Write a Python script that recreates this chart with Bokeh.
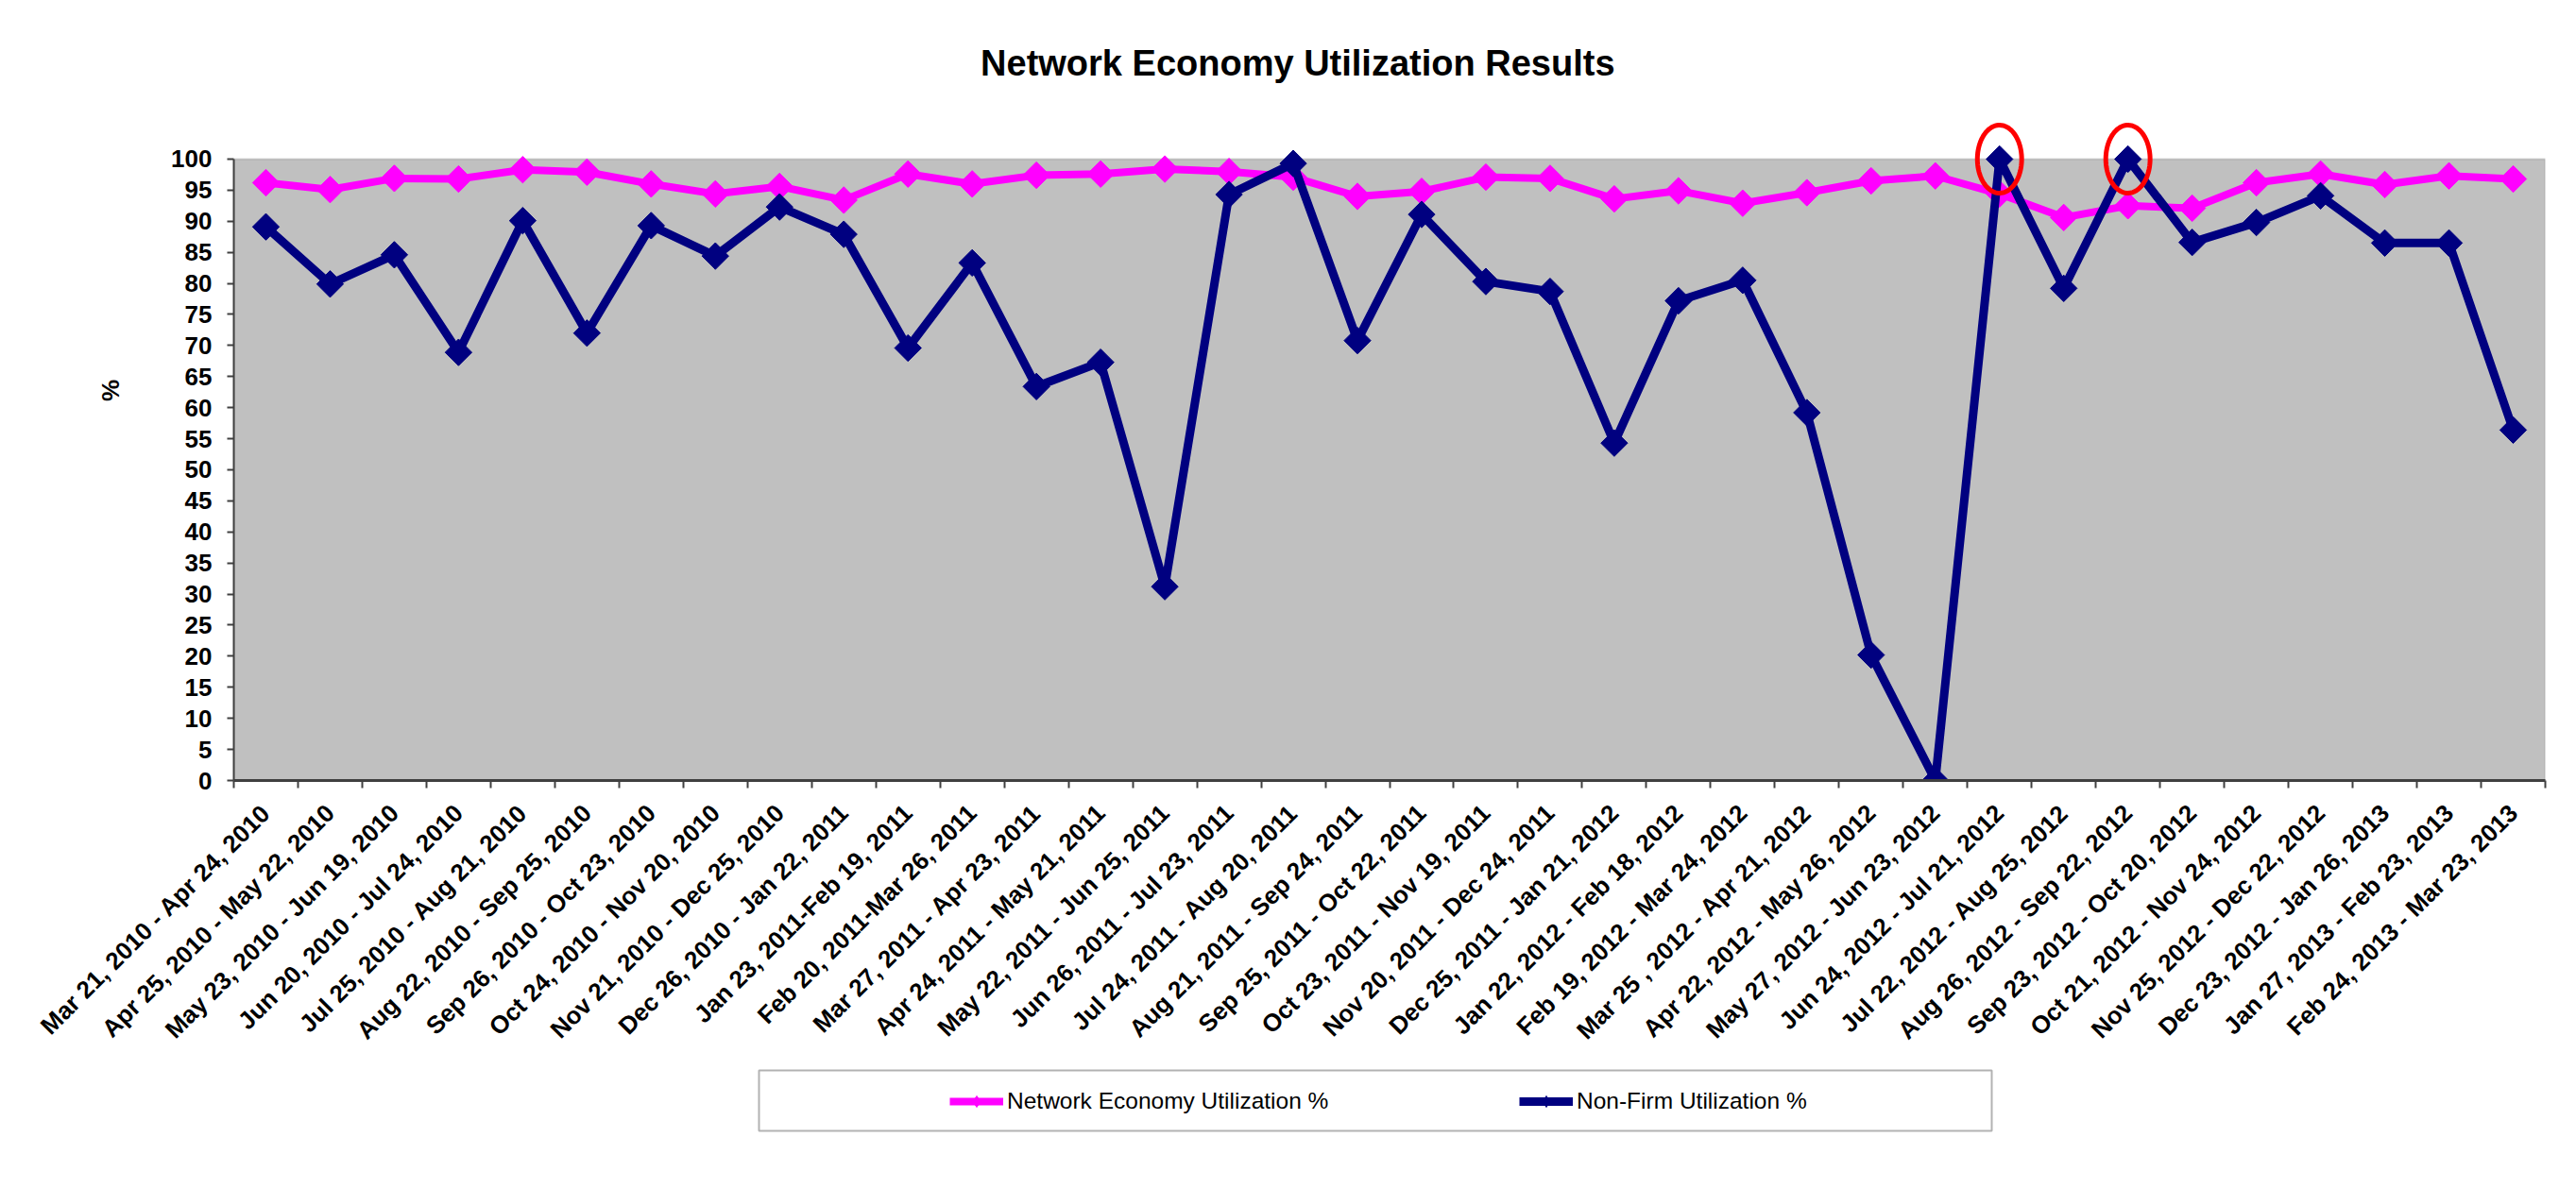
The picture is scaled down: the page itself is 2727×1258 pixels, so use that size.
import numpy as np
from math import pi
from bokeh.plotting import figure
from bokeh.layouts import column
from bokeh.models import (Range1d, FixedTicker, Legend, LegendItem, Label,
                          PolyAnnotation, BoxAnnotation)
from bokeh.embed import file_html
from bokeh.resources import INLINE

# ---------------- data ----------------
categories = [
    "Mar 21, 2010 - Apr 24, 2010", "Apr 25, 2010 - May 22, 2010",
    "May 23, 2010 - Jun 19, 2010", "Jun 20, 2010 - Jul 24, 2010",
    "Jul 25, 2010 - Aug 21, 2010", "Aug 22, 2010 - Sep 25, 2010",
    "Sep 26, 2010 - Oct 23, 2010", "Oct 24, 2010 - Nov 20, 2010",
    "Nov 21, 2010 - Dec 25, 2010", "Dec 26, 2010 - Jan 22, 2011",
    "Jan 23, 2011-Feb 19, 2011", "Feb 20, 2011-Mar 26, 2011",
    "Mar 27, 2011 - Apr 23, 2011", "Apr 24, 2011 - May 21, 2011",
    "May 22, 2011 - Jun 25, 2011", "Jun 26, 2011 - Jul 23, 2011",
    "Jul 24, 2011 - Aug 20, 2011", "Aug 21, 2011 - Sep 24, 2011",
    "Sep 25, 2011 - Oct 22, 2011", "Oct 23, 2011 - Nov 19, 2011",
    "Nov 20, 2011 - Dec 24, 2011", "Dec 25, 2011 - Jan 21, 2012",
    "Jan 22, 2012 - Feb 18, 2012", "Feb 19, 2012 - Mar 24, 2012",
    "Mar 25 , 2012 - Apr 21, 2012", "Apr 22, 2012 - May 26, 2012",
    "May 27, 2012 - Jun 23, 2012", "Jun 24, 2012 - Jul 21, 2012",
    "Jul 22, 2012 - Aug 25, 2012", "Aug 26, 2012 - Sep 22, 2012",
    "Sep 23, 2012 - Oct 20, 2012", "Oct 21, 2012 - Nov 24, 2012",
    "Nov 25, 2012 - Dec 22, 2012", "Dec 23, 2012 - Jan 26, 2013",
    "Jan 27, 2013 - Feb 23, 2013", "Feb 24, 2013 - Mar 23, 2013",
]

network_economy = [
    96.2, 95.1, 96.9, 96.8, 98.3, 97.9, 96.0, 94.4, 95.6, 93.4,
    97.6, 96.0, 97.4, 97.6, 98.4, 98.0, 97.1, 94.0, 94.8, 97.1,
    96.9, 93.6, 94.9, 92.9, 94.6, 96.5, 97.3, 94.4, 90.6, 92.5,
    92.1, 96.2, 97.6, 95.9, 97.3, 96.8,
]

non_firm = [
    89.1, 79.9, 84.6, 68.9, 90.1, 72.0, 89.3, 84.4, 92.3, 87.9,
    69.6, 83.3, 63.4, 67.3, 31.2, 94.3, 99.3, 70.8, 91.1, 80.3,
    78.7, 54.3, 77.2, 80.5, 59.2, 20.2, 0.0, 100.0, 79.2, 100.0,
    86.6, 89.8, 94.1, 86.5, 86.5, 56.4,
]

y_ticks = list(range(0, 101, 5))
y_min, y_max = 0, 100
series_names = ["Network Economy Utilization %", "Non-Firm Utilization %"]
title_text = "Network Economy Utilization Results"
y_label = "%"

FONT = "Liberation Sans"
PINK = "#FF00FF"
NAVY = "#000080"

n = len(categories)
x = list(range(n))
x_lo, x_hi = -0.5, n - 0.5

W = 2727
BORDER_L, BORDER_R = 247, 33

# ================= main chart =================
# frame extends above the 0-100 plot area so the title / rings fit in it
p = figure(width=W, height=1131,
           x_range=Range1d(x_lo, x_hi), y_range=Range1d(y_min, 125.53),
           output_backend="svg", toolbar_location=None,
           min_border_left=BORDER_L, min_border_right=BORDER_R,
           min_border_top=0, min_border_bottom=305,
           background_fill_color="white", border_fill_color="white",
           outline_line_color=None)

p.xgrid.visible = False
p.ygrid.visible = False

# grey plot area 0..100
p.add_layout(BoxAnnotation(left=x_lo, right=x_hi, bottom=y_min, top=y_max,
                           fill_color="#C0C0C0", fill_alpha=1.0,
                           line_color="#808080", line_width=2,
                           level="underlay"))

xa = p.xaxis[0]
xa.ticker = FixedTicker(ticks=x, minor_ticks=[i - 0.5 for i in range(n + 1)])
xa.major_label_overrides = {i: c for i, c in enumerate(categories)}
xa.major_label_orientation = pi / 4
xa.major_tick_out = 0
xa.major_tick_in = 0
xa.major_tick_line_color = None
xa.minor_tick_out = 8
xa.minor_tick_in = 0
xa.minor_tick_line_color = "#404040"
xa.minor_tick_line_width = 2
xa.axis_line_color = "#404040"
xa.axis_line_width = 3
xa.major_label_text_font = FONT
xa.major_label_text_font_style = "bold"
xa.major_label_text_font_size = "26px"
xa.major_label_text_color = "black"
xa.major_label_standoff = 22

ya = p.yaxis[0]
ya.bounds = (y_min, y_max)
ya.ticker = FixedTicker(ticks=y_ticks)
ya.major_tick_out = 7
ya.major_tick_in = 0
ya.major_tick_line_color = "#404040"
ya.major_tick_line_width = 2
ya.minor_tick_line_color = None
ya.axis_line_color = "#404040"
ya.axis_line_width = 2
ya.major_label_text_font = FONT
ya.major_label_text_font_style = "bold"
ya.major_label_text_font_size = "26px"
ya.major_label_text_color = "black"
ya.major_label_standoff = 16
ya.axis_label = y_label
ya.axis_label_text_font = FONT
ya.axis_label_text_font_style = "bold"
ya.axis_label_text_font_size = "26px"
ya.axis_label_text_color = "black"
ya.axis_label_standoff = 46

p.line(x, network_economy, line_color=PINK, line_width=8, line_join="round")
p.scatter(x, network_economy, marker="square", angle=pi / 4, size=20,
          fill_color=PINK, line_color=PINK)
p.line(x, non_firm, line_color=NAVY, line_width=9, line_join="round")
p.scatter(x, non_firm, marker="square", angle=pi / 4, size=20,
          fill_color=NAVY, line_color=NAVY)

# red rings around the 100% points
t = np.linspace(0, 2 * pi, 90)
for i, v in enumerate(non_firm):
    if v >= 100:
        p.add_layout(PolyAnnotation(
            xs=list(i + 0.345 * np.cos(t)), ys=list(v + 5.47 * np.sin(t)),
            xs_units="data", ys_units="data",
            fill_alpha=0, line_color="#FF0000", line_alpha=1.0, line_width=5))

p.add_layout(Label(x=16.07, y=115.35, x_units="data", y_units="data",
                   text=title_text, text_font=FONT, text_font_style="bold",
                   text_font_size="38px", text_align="center",
                   text_baseline="middle", text_color="black"))

# ================= legend strip =================
LH = 127
FRAME_W = W - BORDER_L - BORDER_R
X0 = 100  # strip x-range starts beyond the data so the series stay out of view
pl = figure(width=W, height=LH, x_range=Range1d(X0, X0 + FRAME_W),
            y_range=Range1d(0, LH),
            output_backend="svg", toolbar_location=None,
            x_axis_type=None, y_axis_type=None,
            min_border_left=BORDER_L, min_border_right=BORDER_R,
            min_border_top=0, min_border_bottom=0,
            background_fill_color="white", border_fill_color="white",
            outline_line_color=None)
pl.xgrid.visible = False
pl.ygrid.visible = False

pl.add_layout(BoxAnnotation(left=656, right=1961, bottom=61, top=125,
                            fill_color="white", fill_alpha=1.0,
                            line_color="black", line_width=2,
                            level="underlay"))

lg1 = pl.line(x, network_economy, line_color=PINK, line_width=8)
sg1 = pl.scatter(x, network_economy, marker="diamond", size=22,
                 fill_color=PINK, line_color=PINK)
lg2 = pl.line(x, non_firm, line_color=NAVY, line_width=9)
sg2 = pl.scatter(x, non_firm, marker="diamond", size=22,
                 fill_color=NAVY, line_color=NAVY)

legend = Legend(items=[LegendItem(label=series_names[0], renderers=[lg1, sg1]),
                       LegendItem(label=series_names[1], renderers=[lg2, sg2])],
                orientation="horizontal", location=(748, 67),
                padding=10, spacing=199, margin=0,
                glyph_width=57, glyph_height=30, label_height=30,
                label_width=343, label_standoff=4,
                label_text_font=FONT, label_text_font_size="24.5px",
                label_text_color="black",
                border_line_alpha=0, background_fill_alpha=0)
pl.add_layout(legend)

layout = column(p, pl, spacing=0)
open("out.html", "w").write(file_html(layout, INLINE))
